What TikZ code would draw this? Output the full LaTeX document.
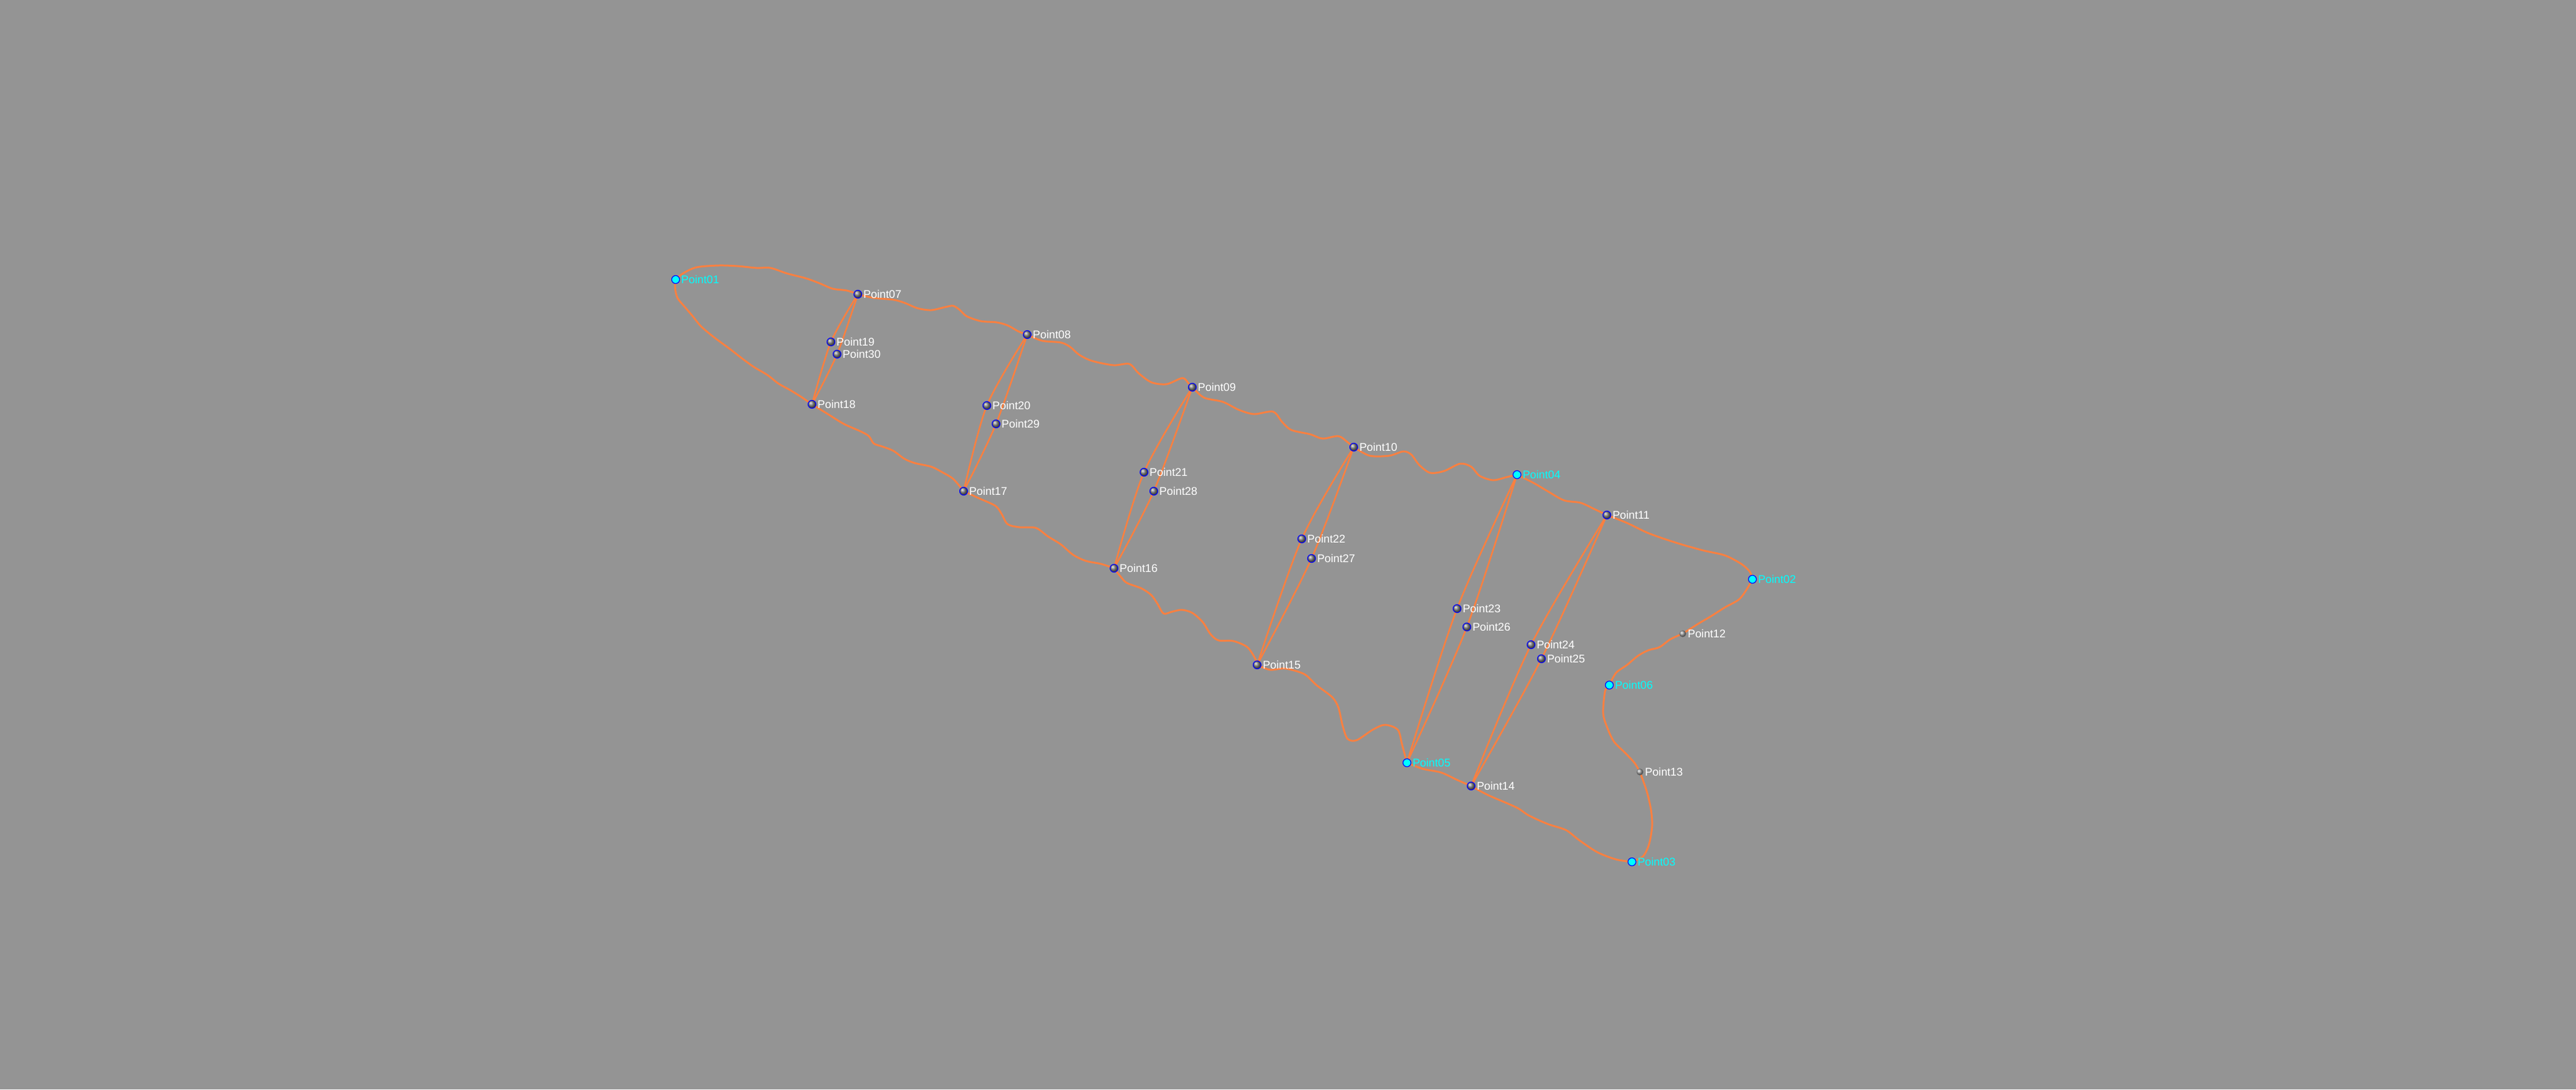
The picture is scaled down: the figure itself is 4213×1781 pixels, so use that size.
\documentclass[tikz,border=0pt]{standalone}
\usepackage{fontspec}
\setmainfont{Liberation Sans}
\usepackage{tikz}
\usetikzlibrary{
    backgrounds,
    shadings
}
\definecolor{bggray}{RGB}{148,148,148}
\definecolor{trackorange}{RGB}{250,128,64}
\definecolor{ptcyan}{RGB}{0,255,255}
\definecolor{ptblue}{RGB}{0,0,255}
\tikzset{
    lbl/.style={font=\fontsize{5.2}{6}\selectfont, inner sep=0.4pt},
    pt/.style={circle, inner sep=0pt, minimum size=1.3mm, draw=ptblue, line width=0.35pt,
        shading=ball, ball color=gray, label distance=0.2pt, label={[lbl,text=white]right:#1}},
    endpt/.style={circle, inner sep=0pt, minimum size=1.3mm, draw=ptblue, line width=0.35pt,
        fill=ptcyan, label distance=0.2pt, label={[lbl,text=ptcyan]right:#1}},
    midpt/.style={circle, inner sep=0pt, minimum size=1.1mm,
        shading=ball, ball color=gray!75, label distance=0.8pt, label={[lbl,text=white]right:#1}},
    track/.style={draw=trackorange, line width=0.85pt, line cap=round, line join=round},
    rung/.style={draw=trackorange, line width=0.75pt, line cap=round}
}

\begin{document}
\begin{tikzpicture}[x=0.1mm, y=-0.1mm]
    \useasboundingbox (0,0) rectangle (4213,1781);

    % boundary points
    \node[endpt=Point01] (p01) at (1105,457) {};
    \node[endpt=Point02] (p02) at (2866,947) {};
    \node[endpt=Point03] (p03) at (2669,1409) {};
    \node[endpt=Point04] (p04) at (2481,776) {};
    \node[endpt=Point05] (p05) at (2301,1247) {};
    \node[endpt=Point06] (p06) at (2632,1120) {};

    \node[pt=Point07] (p07) at (1403,481) {};
    \node[pt=Point08] (p08) at (1680,547) {};
    \node[pt=Point09] (p09) at (1950,633) {};
    \node[pt=Point10] (p10) at (2214,731) {};
    \node[pt=Point11] (p11) at (2628,842) {};
    \node[midpt=Point12] (p12) at (2752,1036) {};
    \node[midpt=Point13] (p13) at (2682,1262) {};
    \node[pt=Point14] (p14) at (2406,1285) {};
    \node[pt=Point15] (p15) at (2056,1087) {};
    \node[pt=Point16] (p16) at (1822,929) {};
    \node[pt=Point17] (p17) at (1576,803) {};
    \node[pt=Point18] (p18) at (1328,661) {};

    % inner points
    \node[pt=Point19] (p19) at (1359,559) {};
    \node[pt=Point20] (p20) at (1614,663) {};
    \node[pt=Point21] (p21) at (1871,772) {};
    \node[pt=Point22] (p22) at (2129,881) {};
    \node[pt=Point23] (p23) at (2383,995) {};
    \node[pt=Point24] (p24) at (2504,1054) {};
    \node[pt=Point25] (p25) at (2521,1077) {};
    \node[pt=Point26] (p26) at (2399,1025) {};
    \node[pt=Point27] (p27) at (2145,913) {};
    \node[pt=Point28] (p28) at (1887,803) {};
    \node[pt=Point29] (p29) at (1629,693) {};
    \node[pt=Point30] (p30) at (1369,579) {};

    \begin{scope}[on background layer]
        \fill[bggray] (0,0) rectangle (4213,1781);

        % top edge
        \draw[track] plot[smooth] coordinates {(p01.center) (1117,447) (1139,437) (1175,434) (1206,435) (1237,438) (1260,438) (1287,447) (1318,455) (1340,463) (1362,472) (1385,475) (p07.center)};
        \draw[track] plot[smooth] coordinates {(p07.center) (1429,487) (1461,490) (1479,495) (1501,504) (1523,507) (1546,502) (1559,500) (1570,507) (1581,517) (1604,525) (1630,527) (1648,532) (1666,542) (p08.center)};
        \draw[track] plot[smooth] coordinates {(p08.center) (1704,557) (1735,560) (1750,567) (1765,580) (1786,590) (1821,597) (1847,595) (1862,610) (1883,625) (1908,628) (1934,618) (1944,627) (p09.center)};
        \draw[track] plot[smooth] coordinates {(p09.center) (1969,650) (2000,657) (2026,670) (2051,677) (2082,673) (2097,690) (2112,703) (2143,710) (2163,717) (2189,713) (2204,723) (p10.center)};
        \draw[track] plot[smooth] coordinates {(p10.center) (2240,745) (2272,745) (2295,738) (2308,743) (2321,760) (2339,773) (2362,770) (2388,758) (2406,763) (2420,778) (2442,785) (2464,780) (p04.center)};
        \draw[track] plot[smooth] coordinates {(p04.center) (2509,790) (2531,803) (2558,818) (2585,822) (2607,832) (p11.center)};
        \draw[track] plot[smooth] coordinates {(p11.center) (2661,855) (2692,870) (2719,880) (2750,890) (2786,900) (2821,908) (2848,922) (2862,935) (p02.center)};

        % right edge
        \draw[track] plot[smooth] coordinates {(p02.center) (2857,963) (2844,980) (2821,993) (2799,1007) (2777,1020) (p12.center)};
        \draw[track] plot[smooth] coordinates {(p12.center) (2732,1045) (2714,1058) (2696,1063) (2679,1072) (2661,1087) (2643,1100) (p06.center)};
        \draw[track] plot[smooth] coordinates {(p06.center) (2625,1130) (2622,1167) (2630,1193) (2640,1213) (2657,1230) (2673,1247) (p13.center)};
        \draw[track] plot[smooth] coordinates {(p13.center) (2693,1293) (2700,1323) (2702,1350) (2697,1380) (2687,1400) (p03.center)};

        % bottom edge
        \draw[track] plot[smooth] coordinates {(p01.center) (1104,470) (1108,487) (1121,503) (1133,517) (1146,533) (1166,550) (1193,570) (1215,587) (1233,600) (1255,613) (1273,627) (1291,637) (1309,648) (p18.center)};
        \draw[track] plot[smooth] coordinates {(p18.center) (1354,677) (1380,693) (1407,705) (1421,713) (1429,725) (1443,730) (1461,737) (1479,750) (1496,757) (1523,763) (1541,772) (1559,783) (p17.center)};
        \draw[track] plot[smooth] coordinates {(p17.center) (1602,815) (1628,827) (1638,840) (1648,857) (1668,862) (1694,863) (1714,877) (1735,890) (1755,907) (1776,917) (1801,922) (p16.center)};
        \draw[track] plot[smooth] coordinates {(p16.center) (1833,943) (1843,953) (1867,962) (1883,973) (1893,987) (1903,1003) (1917,1000) (1933,997) (1950,1002) (1967,1017) (1980,1037) (1993,1047) (2017,1048) (2040,1058) (2053,1077) (p15.center)};
        \draw[track] plot[smooth] coordinates {(p15.center) (2077,1095) (2102,1093) (2133,1102) (2153,1120) (2179,1140) (2189,1157) (2196,1187) (2204,1208) (2219,1210) (2245,1193) (2265,1185) (2286,1193) (2293,1217) (p05.center)};
        \draw[track] plot[smooth] coordinates {(p05.center) (2327,1257) (2357,1263) (2383,1275) (p14.center)};
        \draw[track] plot[smooth] coordinates {(p14.center) (2434,1300) (2480,1320) (2500,1333) (2531,1347) (2561,1357) (2582,1373) (2612,1393) (2643,1405) (p03.center)};

        % rungs
        \draw[rung] plot[smooth] coordinates {(p07.center) (p19.center) (p18.center)};
        \draw[rung] plot[smooth] coordinates {(p07.center) (p30.center) (p18.center)};
        \draw[rung] plot[smooth] coordinates {(p08.center) (p20.center) (p17.center)};
        \draw[rung] plot[smooth] coordinates {(p08.center) (p29.center) (p17.center)};
        \draw[rung] plot[smooth] coordinates {(p09.center) (p21.center) (p16.center)};
        \draw[rung] plot[smooth] coordinates {(p09.center) (p28.center) (p16.center)};
        \draw[rung] plot[smooth] coordinates {(p10.center) (p22.center) (p15.center)};
        \draw[rung] plot[smooth] coordinates {(p10.center) (p27.center) (p15.center)};
        \draw[rung] plot[smooth] coordinates {(p04.center) (p23.center) (p05.center)};
        \draw[rung] plot[smooth] coordinates {(p04.center) (p26.center) (p05.center)};
        \draw[rung] plot[smooth] coordinates {(p11.center) (p24.center) (p14.center)};
        \draw[rung] plot[smooth] coordinates {(p11.center) (p25.center) (p14.center)};
    \end{scope}
\end{tikzpicture}
\end{document}
